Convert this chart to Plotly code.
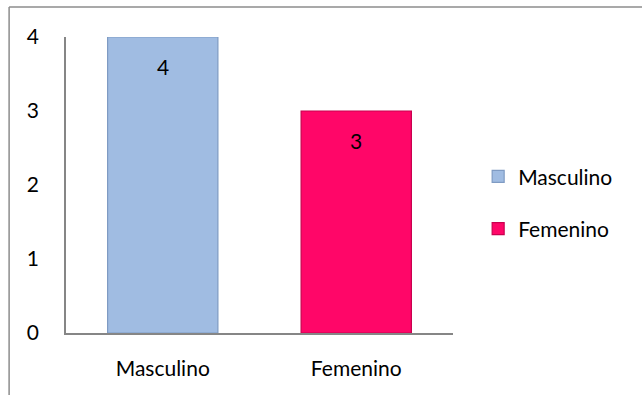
import plotly.graph_objects as go

# Chart data
categories = ["Masculino", "Femenino"]
values = [4, 3]
bar_colors = ["#A0BCE2", "#FF0668"]
edge_colors = ["#7F9BC3", "#C9004F"]
y_ticks = [0, 1, 2, 3, 4]

FONT = "Lato, Calibri, 'Open Sans', sans-serif"
FS = 21

fig = go.Figure()
for cat, val, col, edge in zip(categories, values, bar_colors, edge_colors):
    fig.add_trace(go.Bar(
        x=[cat], y=[val], name=cat, width=0.57,
        legendgroup=cat,
        marker=dict(color=col, line=dict(color=edge, width=1.2)),
        hoverinfo="x+y",
    ))
    # value label just below the top of each bar
    fig.add_annotation(
        x=cat, y=val, text=str(val), showarrow=False,
        yanchor="top", yshift=-15,
        font=dict(family=FONT, size=FS, color="#000000"),
    )

# outer chart frame (left and top edges visible)
fig.add_shape(type="line", xref="paper", yref="paper",
              x0=-0.147, x1=1.6, y0=1.101, y1=1.101,
              line=dict(color="#8C8C8C", width=1.5))
fig.add_shape(type="line", xref="paper", yref="paper",
              x0=-0.147, x1=-0.147, y0=1.101, y1=-0.3,
              line=dict(color="#8C8C8C", width=1.5))

fig.update_layout(
    width=642, height=395,
    margin=dict(l=66, r=189, t=37, b=62),
    paper_bgcolor="white", plot_bgcolor="white",
    barmode="overlay",
    font=dict(family=FONT, size=FS, color="#000000"),
    showlegend=True,
    legend=dict(
        x=1.065, xanchor="left", y=0.44, yanchor="middle",
        traceorder="grouped", tracegroupgap=22,
        font=dict(family=FONT, size=FS, color="#000000"),
        itemwidth=30,
    ),
    xaxis=dict(
        type="category", categoryorder="array", categoryarray=categories,
        showline=True, linecolor="#868686", linewidth=1.5,
        showgrid=False, ticks="", ticklabelstandoff=16,
        range=[-0.5, 1.5],
    ),
    yaxis=dict(
        range=[0, 4], tickvals=y_ticks, showgrid=False, zeroline=False,
        showline=True, linecolor="#868686", linewidth=1.5,
        ticks="", ticklabelstandoff=21,
    ),
)

fig.write_html("out.html")
